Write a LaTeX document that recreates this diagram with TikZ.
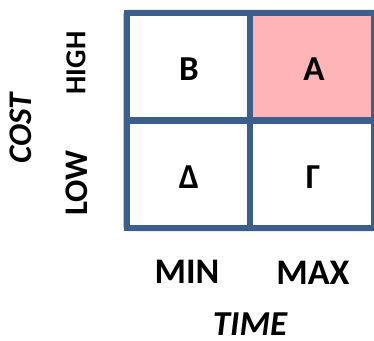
\documentclass[tikz,border=0pt]{standalone}
\usepackage{fontspec}
\setmainfont{Carlito}
\definecolor{gridblue}{HTML}{3B5E8C}
\definecolor{hotpink}{HTML}{FFB5B7}
\begin{document}
\begin{tikzpicture}[x=1pt,y=-1pt,
  cell/.style={draw=gridblue, line width=6pt, minimum width=124pt, minimum height=107.5pt,
    inner sep=0pt, outer sep=0pt},
  celltext/.style={font=\bfseries\fontsize{35}{35}\selectfont, inner sep=0pt},
  axlabel/.style={font=\bfseries\fontsize{36}{36}\selectfont, inner sep=0pt, anchor=base},
  sidelabel/.style={font=\bfseries\fontsize{#1}{#1}\selectfont, inner sep=0pt, rotate=90},
  axtitle/.style={font=\bfseries\itshape\fontsize{#1}{#1}\selectfont, inner sep=0pt}]
  \useasboundingbox (0,0) rectangle (374,340);
  % quadrant cells
  \node[cell, fill=white]   (cB) at (188.5,66.5)   {};
  \node[cell, fill=hotpink] (cA) at (312.25,66.5)  {};
  \node[cell, fill=white]   (cD) at (188.5,174.25) {};
  \node[cell, fill=white]   (cG) at (312.25,174.25) {};
  % outer frame
  \draw[gridblue, line width=6pt, rounded corners=2pt] (cB.north west) rectangle (cG.south east);
  % quadrant letters
  \node[celltext] (tB) at (189,69.5)  {B};
  \node[celltext] (tA) at (314,69.5)  {A};
  \node[celltext] (tD) at (189,177)   {Δ};
  \node[celltext] (tG) at (313,177.5) {Γ};
  % axis labels
  \node[sidelabel=29] (high) at (76,63)  {HIGH};
  \node[sidelabel=33] (low)  at (77,183) {LOW};
  \node[axtitle=33, rotate=90] (cost) at (21,128) {COST};
  \node[axlabel] (min) at (187,283) {MIN};
  \node[axlabel] (max) at (313,284) {MAX};
  \node[axtitle=35, anchor=base] (time) at (250,335.5) {TIME};
\end{tikzpicture}
\end{document}
